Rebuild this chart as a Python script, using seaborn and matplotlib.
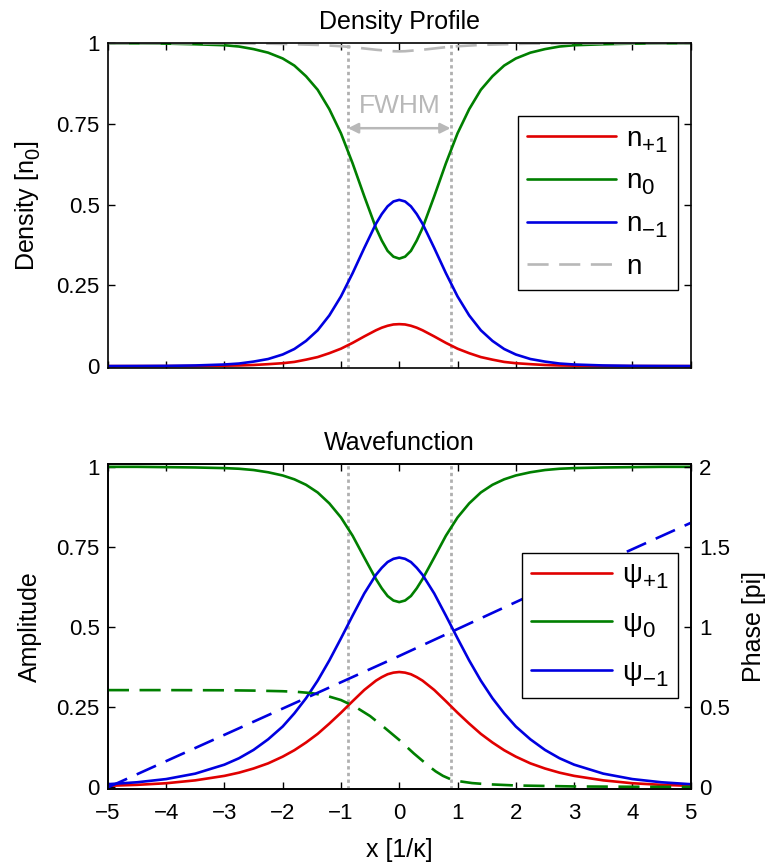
import numpy as np
import pandas as pd
import matplotlib
matplotlib.use("Agg")
import matplotlib.pyplot as plt
import seaborn as sns

# ---- grid positions [1/kappa] ----
x = [-5, -4.5, -4, -3.5, -3, -2.75, -2.5, -2.25, -2, -1.8, -1.6, -1.4, -1.2, -1, -0.8, -0.6, -0.4, -0.3, -0.2,
     -0.1, 0, 0.1, 0.2, 0.3, 0.4, 0.6, 0.8, 1, 1.2, 1.4, 1.6, 1.8, 2, 2.25, 2.5, 2.75, 3, 3.5, 4, 4.5, 5]

# ---- densities [n0] ----
n_p1 = [0.0, 0.0001, 0.0002, 0.0005, 0.0013, 0.002, 0.0035, 0.006, 0.009, 0.013, 0.020, 0.028, 0.040, 0.054,
        0.072, 0.092, 0.111, 0.119, 0.125, 0.129, 0.130, 0.129, 0.125, 0.119, 0.111, 0.092, 0.072, 0.054,
        0.040, 0.028, 0.020, 0.013, 0.009, 0.006, 0.0035, 0.002, 0.0013, 0.0005, 0.0002, 0.0001, 0.0]
n_0 = [1.0, 1.0, 0.999, 0.997, 0.994, 0.990, 0.982, 0.971, 0.953, 0.931, 0.898, 0.856, 0.796, 0.721,
       0.628, 0.526, 0.428, 0.389, 0.357, 0.339, 0.333, 0.339, 0.357, 0.389, 0.428, 0.526, 0.628, 0.721,
       0.796, 0.856, 0.898, 0.931, 0.953, 0.971, 0.982, 0.990, 0.994, 0.997, 0.999, 1.0, 1.0]
n_m1 = [0.0001, 0.0003, 0.0007, 0.002, 0.005, 0.008, 0.014, 0.022, 0.036, 0.053, 0.078, 0.111, 0.157, 0.216,
        0.288, 0.366, 0.441, 0.471, 0.495, 0.510, 0.515, 0.510, 0.495, 0.471, 0.441, 0.366, 0.288, 0.216,
        0.157, 0.111, 0.078, 0.053, 0.036, 0.022, 0.014, 0.008, 0.005, 0.002, 0.0007, 0.0003, 0.0001]
n_tot = [1.0, 1.0, 1.0, 1.0, 1.0, 1.0, 0.999, 0.999, 0.998, 0.997, 0.996, 0.995, 0.993, 0.991,
         0.988, 0.984, 0.980, 0.9785, 0.977, 0.9755, 0.975, 0.9755, 0.977, 0.9785, 0.980, 0.984, 0.988,
         0.991, 0.993, 0.995, 0.996, 0.997, 0.998, 0.999, 0.999, 1.0, 1.0, 1.0, 1.0, 1.0, 1.0]

# ---- wavefunction amplitudes ----
psi_p1 = [0.005, 0.008, 0.013, 0.022, 0.036, 0.046, 0.059, 0.075, 0.096, 0.116, 0.140, 0.167, 0.199, 0.233,
          0.269, 0.304, 0.333, 0.344, 0.353, 0.358, 0.360, 0.358, 0.353, 0.344, 0.333, 0.304, 0.269, 0.233,
          0.199, 0.167, 0.140, 0.116, 0.096, 0.075, 0.059, 0.046, 0.036, 0.022, 0.013, 0.008, 0.005]
psi_0 = [1.0, 1.0, 0.999, 0.998, 0.996, 0.994, 0.990, 0.983, 0.973, 0.961, 0.944, 0.920, 0.886, 0.842,
         0.785, 0.717, 0.650, 0.621, 0.597, 0.583, 0.578, 0.583, 0.597, 0.621, 0.650, 0.717, 0.785, 0.842,
         0.886, 0.920, 0.944, 0.961, 0.973, 0.983, 0.990, 0.994, 0.996, 0.998, 0.999, 1.0, 1.0]
psi_m1 = [0.010, 0.016, 0.026, 0.043, 0.071, 0.091, 0.117, 0.150, 0.190, 0.231, 0.278, 0.333, 0.396, 0.465,
          0.536, 0.605, 0.663, 0.685, 0.703, 0.713, 0.717, 0.713, 0.703, 0.685, 0.663, 0.605, 0.536, 0.465,
          0.396, 0.333, 0.278, 0.231, 0.190, 0.150, 0.117, 0.091, 0.071, 0.043, 0.026, 0.016, 0.010]

# ---- phases [pi] ----
x_phase_m1 = [-5, -2.5, 0, 2.5, 5]
phase_m1 = [0.0, 0.41, 0.82, 1.24, 1.65]
x_phase_0 = [-5, -4, -3, -2.5, -2, -1.75, -1.5, -1.25, -1, -0.75, -0.5, -0.25, 0,
             0.25, 0.5, 0.625, 0.75, 0.875, 1, 1.25, 1.5, 2, 2.5, 3, 4, 5]
phase_0 = [0.607, 0.607, 0.606, 0.604, 0.600, 0.596, 0.588, 0.572, 0.545, 0.502, 0.445, 0.372, 0.296,
           0.212, 0.135, 0.100, 0.072, 0.052, 0.040, 0.027, 0.020, 0.012, 0.009, 0.006, 0.004, 0.003]

fwhm_half = 0.88
y_ticks_left = [0, 0.25, 0.5, 0.75, 1]
y_ticklabels_left = ["0", "0.25", "0.5", "0.75", "1"]
y_ticks_right = [0, 0.5, 1, 1.5, 2]
y_ticklabels_right = ["0", "0.5", "1", "1.5", "2"]
x_ticks = [-5, -4, -3, -2, -1, 0, 1, 2, 3, 4, 5]

RED, GREEN, BLUE, GRAY = "#e00000", "#007f00", "#0000e0", "#b8b8b8"

sns.set_theme(style="ticks")
plt.rcParams["font.family"] = ["Liberation Sans", "DejaVu Sans"]
plt.rcParams["mathtext.fontset"] = "custom"
plt.rcParams["mathtext.rm"] = "Liberation Sans"
plt.rcParams["mathtext.it"] = "Liberation Sans"
plt.rcParams["axes.unicode_minus"] = True
for key in ("text.color", "axes.labelcolor", "xtick.color", "ytick.color",
            "xtick.labelcolor", "ytick.labelcolor", "axes.edgecolor"):
    plt.rcParams[key] = "black"

# larger, lower subscripts for the legend labels
try:
    import matplotlib._mathtext as _mt
    _mt.SHRINK_FACTOR = 0.8
    _mt.FontConstantsBase.sub1 = 0.45
    _mt.FontConstantsBase.sub2 = 0.6
except Exception:
    pass

dens = pd.DataFrame({"x": x, "n_p1": n_p1, "n_0": n_0, "n_m1": n_m1, "n": n_tot})
wave = pd.DataFrame({"x": x, "p1": psi_p1, "z": psi_0, "m1": psi_m1})
ph_m1 = pd.DataFrame({"x": x_phase_m1, "ph": phase_m1})
ph_0 = pd.DataFrame({"x": x_phase_0, "ph": phase_0})

fig = plt.figure(figsize=(7.76, 8.66), dpi=100)
ax1 = fig.add_axes([0.139, 0.575, 0.751, 0.375])
ax2 = fig.add_axes([0.139, 0.0889, 0.751, 0.375])

LW = 1.9
FS = 16
LFS = 18
dash = (0, (8, 4))
dot = (0, (1.2, 1.2))
VCOL = "#b0b0b0"


def style_axis(ax):
    for s in ax.spines.values():
        s.set_linewidth(1.2)
        s.set_color("black")
        s.set_visible(True)
    ax.tick_params(direction="in", length=5, width=1.0, labelsize=FS, colors="black",
                   top=True, right=True, pad=6)
    ax.tick_params(axis="x", pad=10)


def legend_on(ax, handles, labels, top, handlelength, labelspacing):
    leg = ax.legend(handles, labels, loc="upper right", bbox_to_anchor=(0.978, top),
                    borderaxespad=0, fontsize=20, frameon=True, fancybox=False,
                    edgecolor="black", framealpha=1.0, handlelength=handlelength,
                    handletextpad=0.35, labelspacing=labelspacing, borderpad=0.35)
    leg.get_frame().set_linewidth(1.0)
    return leg


# ---------------- Density profile ----------------
for col, c, lab in [("n_p1", RED, r"$\mathregular{n_{+1}}$"),
                    ("n_0", GREEN, r"$\mathregular{n_0}$"),
                    ("n_m1", BLUE, r"$\mathregular{n_{-1}}$")]:
    sns.lineplot(data=dens, x="x", y=col, ax=ax1, color=c, linewidth=LW, label=lab,
                 errorbar=None, sort=False)
sns.lineplot(data=dens, x="x", y="n", ax=ax1, color=GRAY, linewidth=LW, label="n",
             linestyle=dash, errorbar=None, sort=False)

for xv in (-fwhm_half, fwhm_half):
    ax1.axvline(xv, color=VCOL, linestyle=dot, linewidth=2.0, zorder=1)
ax1.annotate("", xy=(-fwhm_half, 0.737), xytext=(fwhm_half, 0.737),
             arrowprops=dict(arrowstyle="<|-|>", color="#b8b8b8", lw=1.8,
                             shrinkA=0, shrinkB=0, mutation_scale=15))
ax1.text(0, 0.805, "FWHM", color="#b8b8b8", fontsize=19, ha="center", va="center")

ax1.set_xlim(-5, 5)
ax1.set_ylim(-0.006, 1.0)
ax1.set_xticks(x_ticks)
ax1.set_xticklabels([])
ax1.set_yticks(y_ticks_left)
ax1.set_yticklabels(y_ticklabels_left)
ax1.set_xlabel("")
ax1.set_ylabel(r"Density [$\mathregular{n_0}$]", fontsize=LFS)
ax1.yaxis.set_label_coords(-0.111, 0.5)
ax1.set_title("Density Profile", fontsize=LFS, pad=10)
style_axis(ax1)
h1, l1 = ax1.get_legend_handles_labels()
legend_on(ax1, h1, l1, 0.775, 3.2, 0.5)

# ---------------- Wavefunction ----------------
for col, c, lab in [("p1", RED, r"$\mathregular{ψ_{+1}}$"),
                    ("z", GREEN, r"$\mathregular{ψ_0}$"),
                    ("m1", BLUE, r"$\mathregular{ψ_{-1}}$")]:
    sns.lineplot(data=wave, x="x", y=col, ax=ax2, color=c, linewidth=LW, label=lab,
                 errorbar=None, sort=False)

for xv in (-fwhm_half, fwhm_half):
    ax2.axvline(xv, color=VCOL, linestyle=dot, linewidth=2.0, zorder=1)

ax2.set_xlim(-5, 5)
ax2.set_ylim(-0.005, 1.008)
ax2.set_xticks(x_ticks)
ax2.set_yticks(y_ticks_left)
ax2.set_yticklabels(y_ticklabels_left)
ax2.set_xlabel("x [1/κ]", fontsize=LFS)
ax2.xaxis.set_label_coords(0.5, -0.15)
ax2.set_ylabel("Amplitude", fontsize=LFS)
ax2.yaxis.set_label_coords(-0.113, 0.5)
ax2.set_title("Wavefunction", fontsize=LFS, pad=10)
style_axis(ax2)
ax2.tick_params(right=False)

ax3 = ax2.twinx()
sns.lineplot(data=ph_0, x="x", y="ph", ax=ax3, color=GREEN, linewidth=LW,
             linestyle=dash, errorbar=None, sort=False, legend=False)
sns.lineplot(data=ph_m1, x="x", y="ph", ax=ax3, color=BLUE, linewidth=LW,
             linestyle=dash, errorbar=None, sort=False, legend=False)
ax3.set_ylim(-0.010, 2.016)
ax3.set_xlim(-5, 5)
ax3.set_yticks(y_ticks_right)
ax3.set_yticklabels(y_ticklabels_right)
ax3.set_ylabel("Phase [pi]", fontsize=LFS)
ax3.yaxis.set_label_coords(1.088, 0.5)
ax3.tick_params(axis="y", direction="in", length=5, width=1.0, labelsize=FS, pad=6,
                colors="black")
for s in ax3.spines.values():
    s.set_linewidth(1.2)
    s.set_color("black")

h2, l2 = ax2.get_legend_handles_labels()
ax2.get_legend().remove()
legend_on(ax3, h2, l2, 0.728, 2.9, 0.72)

fig.savefig("out.png", dpi=100)
